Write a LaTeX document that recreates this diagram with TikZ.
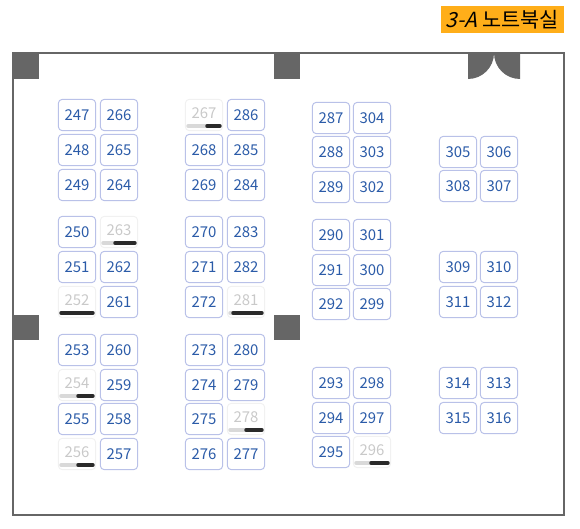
\documentclass[tikz,border=0pt]{standalone}
\usepackage{fontspec}
\setmainfont{Noto Sans CJK KR}[AutoFakeSlant=0.25]
\usetikzlibrary{calc}
\definecolor{wallgray}{HTML}{666666}
\definecolor{seatline}{HTML}{B9C1E8}
\definecolor{seattext}{HTML}{2B5BA8}
\definecolor{takenline}{HTML}{F1F1F1}
\definecolor{takentext}{HTML}{C9C9C9}
\definecolor{bargray}{HTML}{D9D9D9}
\definecolor{bardark}{HTML}{2A2A2A}
\definecolor{tagorange}{HTML}{FFAE19}
\tikzset{
  seat/.style={draw=seatline,line width=0.75pt,rounded corners=3pt,minimum width=28pt,minimum height=23.5pt,inner sep=0pt,text=seattext,font=\fontsize{11.2}{12}\selectfont},
  takenseat/.style={seat,draw=takenline,text=takentext},
  pillar/.style={fill=wallgray,draw=none},
  bar/.style={line width=2.6pt,line cap=round}
}
\begin{document}
\begin{tikzpicture}[x=0.75pt,y=-0.75pt]
\useasboundingbox (0,0) rectangle (580,528);
% room
\draw[wallgray,line width=1.5pt] (12.5,53.5) rectangle (564,515);
\fill[pillar] (12,53) rectangle (39,79);
\fill[pillar] (274,53) rectangle (300,79);
\fill[pillar] (12,315) rectangle (39,340);
\fill[pillar] (274,315) rectangle (300,340);
% door
\fill[pillar] (468,53) -- (494,53) arc (0:90:26) -- cycle;
\fill[pillar] (520,53) -- (494,53) arc (180:90:26) -- cycle;
% title
\node[fill=tagorange,minimum width=92pt,minimum height=20.25pt,inner sep=0pt,font=\fontsize{15.6}{17}\selectfont] (title) at (502.25,19.5) {\textit{3-A} 노트북실};
% free seats
\foreach \num/\x/\y in {247/77/115,266/119/115,248/77/150,265/119/150,249/77/185,264/119/185,
  250/77/232,251/77/267,262/119/267,261/119/302,253/77/350,260/119/350,259/119/385,255/77/419,258/119/419,257/119/454,
  286/246/115,268/204/150,285/246/150,269/204/185,284/246/185,270/204/232,283/246/232,271/204/267,282/246/267,272/204/302,
  273/204/350,280/246/350,274/204/385,279/246/385,275/204/419,276/204/454,277/246/454,
  287/331/118,304/372/118,288/331/152,303/372/152,289/331/187,302/372/187,290/331/235,301/372/235,291/331/270,300/372/270,292/331/304,299/372/304,
  293/331/383,298/372/383,294/331/418,297/372/418,295/331/452,
  305/458/152,306/499/152,308/458/186,307/499/186,309/458/267,310/499/267,311/458/302,312/499/302,314/458/383,313/499/383,315/458/418,316/499/418}
  \node[seat] (s\num) at (\x,\y) {\num};
% taken seats, \st is where the dark part starts
\foreach \num/\x/\y/\st in {267/204/115/3,263/119/232/-4,252/77/302/-16,254/77/385/1,256/77/454/1,281/246/302/-13,278/246/419/0,296/372/452/-1}{
  \node[takenseat] (s\num) at (\x,\y) {\raisebox{3pt}{\num}};
  \draw[bar,bargray] ($(\x,\y)+(-16,11)$) -- ($(\x,\y)+(\st,11)$);
  \draw[bar,bardark] ($(\x,\y)+(\st,11)$) -- ($(\x,\y)+(16,11)$);
}
\end{tikzpicture}
\end{document}
